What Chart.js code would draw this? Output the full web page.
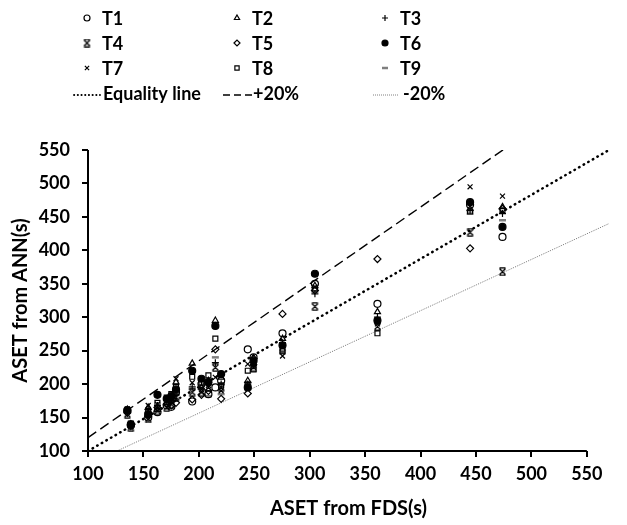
<!DOCTYPE html>
<html>
<head>
<meta charset="utf-8">
<title>ASET: ANN vs FDS</title>
<script src="https://cdn.jsdelivr.net/npm/chart.js@4/dist/chart.umd.min.js"></script>
<style>
  html, body { margin: 0; padding: 0; background: #fff; }
  #wrap { width: 627px; height: 525px; }
</style>
</head>
<body>
<div id="wrap"><canvas id="chart" width="627" height="525"></canvas></div>
<script>
// ASET from FDS (x) for each case
const fds = [134, 137, 152, 160, 168, 172, 176, 190, 198, 204, 210, 215, 238, 243, 268, 296, 350, 430, 458];

// ASET predicted by the ANN, one array per test set
const annT1 = [160, 138, 150, 158, 168, 166, 188, 174, 200, 185, 195, 205, 252, 240, 276, 350, 320, 468, 420];
const annT2 = [162, 140, 165, 162, 172, 176, 203, 231, 195, 205, 295, 210, 205, 232, 268, 347, 308, 462, 465];
const annT3 = [158, 136, 162, 168, 176, 180, 184, 196, 205, 200, 232, 200, 200, 228, 262, 335, 300, 460, 455];
const annT4 = [155, 135, 148, 160, 165, 170, 180, 188, 188, 195, 225, 195, 198, 230, 255, 316, 286, 427, 368];
const annT5 = [157, 139, 152, 165, 170, 168, 172, 177, 184, 190, 252, 178, 186, 238, 305, 340, 387, 403, 462];
const annT6 = [161, 140, 155, 184, 178, 182, 192, 220, 208, 203, 287, 215, 195, 235, 258, 365, 295, 472, 435];
const annT7 = [163, 137, 168, 170, 175, 174, 208, 202, 192, 198, 210, 190, 230, 225, 242, 345, 290, 495, 481];
const annT8 = [160, 141, 160, 172, 180, 185, 196, 211, 202, 213, 268, 198, 220, 222, 250, 343, 276, 458, 460];
const annT9 = [158, 138, 157, 163, 169, 172, 178, 193, 198, 182, 240, 185, 192, 220, 246, 338, 292, 455, 445];

// reference lines (end points), clipped to the plot area
const refX = [100, 550];
const equalY = [100, 550];
const plus20Y = [120, 660];
const minus20Y = [80, 440];

const axisTicks = [100, 150, 200, 250, 300, 350, 400, 450, 500, 550];

const FONT = 'Lato, "Open Sans", sans-serif';

// x with bars top and bottom
function barredCross() {
    const c = document.createElement('canvas');
    c.width = 9; c.height = 9;
    const g = c.getContext('2d');
    g.strokeStyle = '#000';
    g.lineWidth = 1.3;
    g.beginPath();
    g.moveTo(1.5, 1.5); g.lineTo(7.5, 7.5);
    g.moveTo(7.5, 1.5); g.lineTo(1.5, 7.5);
    g.moveTo(1.5, 0.8); g.lineTo(7.5, 0.8);
    g.moveTo(1.5, 8.2); g.lineTo(7.5, 8.2);
    g.stroke();
    return c;
}

const pairs = (xs, ys) => xs.map((x, i) => ({ x: x, y: ys[i] }));

function series(label, ys, style, extra) {
    return Object.assign({
        type: 'scatter',
        label: label,
        data: pairs(fds, ys),
        pointStyle: style,
        pointRadius: 3.5,
        pointBorderWidth: 1.2,
        pointBorderColor: '#000',
        pointBackgroundColor: 'rgba(0,0,0,0)'
    }, extra || {});
}

function refLine(label, ys, extra) {
    return Object.assign({
        type: 'line',
        label: label,
        data: pairs(refX, ys),
        borderColor: '#000',
        pointRadius: 0,
        fill: false,
        tension: 0
    }, extra);
}

const datasets = [
    series('T1', annT1, 'circle'),
    series('T2', annT2, 'triangle'),
    series('T3', annT3, 'cross'),
    series('T4', annT4, barredCross()),
    series('T5', annT5, 'rectRot'),
    series('T6', annT6, 'circle', { pointBackgroundColor: '#000' }),
    series('T7', annT7, 'crossRot'),
    series('T8', annT8, 'rect'),
    series('T9', annT9, 'line', { pointBorderColor: '#7f7f7f', pointBorderWidth: 2.5 }),
    refLine('Equality line', equalY, { borderWidth: 2.5, borderDash: [0.5, 4.8], borderCapStyle: 'round' }),
    refLine('+20%', plus20Y, { borderWidth: 1.4, borderDash: [10, 5] }),
    refLine('-20%', minus20Y, { borderWidth: 1, borderDash: [1.2, 1.2], borderColor: '#808080' })
];

// legend drawn as a fixed 3-column grid above the plot
const gridLegend = {
    id: 'gridLegend',
    afterDraw(chart) {
        const ctx = chart.ctx;
        const colX = [87, 237, 385];
        const rowY = [18, 43, 68, 93];
        const samples = [[74, 100, 103], [223, 252, 253], [373, 398, 403]];
        ctx.save();
        ctx.font = 'bold 18px ' + FONT;
        ctx.textBaseline = 'middle';
        ctx.fillStyle = '#000';
        chart.data.datasets.forEach((ds, i) => {
            if (i < 9) {
                const x = colX[i % 3], y = rowY[Math.floor(i / 3)];
                ctx.save();
                ctx.strokeStyle = ds.pointBorderColor;
                ctx.fillStyle = ds.pointBackgroundColor;
                ctx.lineWidth = ds.pointBorderWidth;
                Chart.helpers.drawPoint(ctx, {
                    pointStyle: ds.pointStyle, radius: 3, borderWidth: ds.pointBorderWidth, rotation: 0
                }, x, y);
                ctx.restore();
                ctx.fillText(ds.label, x + 15, y + 1);
            } else {
                const s = samples[i - 9], y = rowY[3];
                ctx.save();
                ctx.strokeStyle = ds.borderColor;
                ctx.lineWidth = Math.min(ds.borderWidth, 1.8);
                ctx.lineCap = ds.borderCapStyle || 'butt';
                ctx.setLineDash(i === 9 ? [0.3, 3.4] : i === 10 ? [7, 4] : [1, 1]);
                ctx.beginPath();
                ctx.moveTo(s[0], y + 2);
                ctx.lineTo(s[1], y + 2);
                ctx.stroke();
                ctx.restore();
                ctx.fillText(ds.label, s[2], y + 1);
            }
        });
        ctx.restore();
    }
};

// axis lines only span 100..550 on the labelled axes
const axisLines = {
    id: 'axisLines',
    afterDraw(chart) {
        const ctx = chart.ctx;
        const xs = chart.scales.xv, ys = chart.scales.y;
        const left = chart.chartArea.left, bottom = chart.chartArea.bottom;
        ctx.save();
        ctx.strokeStyle = '#000';
        ctx.lineWidth = 2;
        ctx.beginPath();
        ctx.moveTo(xs.getPixelForValue(axisTicks[0]), bottom);
        ctx.lineTo(xs.getPixelForValue(axisTicks[axisTicks.length - 1]), bottom);
        ctx.moveTo(left, ys.getPixelForValue(axisTicks[0]));
        ctx.lineTo(left, ys.getPixelForValue(axisTicks[axisTicks.length - 1]));
        ctx.stroke();
        ctx.restore();
    }
};

const tickFont = { family: FONT, size: 18, weight: 'bold' };
const titleFont = { family: FONT, size: 20, weight: 'bold' };
const onlyAxisTicks = scale => {
    scale.ticks = axisTicks.map(v => ({ value: v }));
};

new Chart(document.getElementById('chart'), {
    type: 'scatter',
    data: { datasets: datasets },
    options: {
        responsive: false,
        animation: false,
        events: [],
        layout: { padding: { top: 150, right: 18, left: 0, bottom: 0 } },
        plugins: {
            legend: { display: false },
            tooltip: { enabled: false }
        },
        scales: {
            x: {
                type: 'linear',
                min: 100,
                max: 550,
                display: false
            },
            xv: {
                type: 'linear',
                position: 'bottom',
                min: 100,
                max: 570,
                afterBuildTicks: onlyAxisTicks,
                afterFit: scale => { scale.height = 74; },
                border: { display: false },
                grid: { drawOnChartArea: false, drawTicks: true, tickLength: 6, color: '#000', lineWidth: 2 },
                ticks: { font: tickFont, color: '#000', padding: 6, maxRotation: 0 },
                title: {
                    display: true,
                    text: 'ASET from FDS(s)',
                    font: titleFont,
                    color: '#000',
                    padding: { top: 0, bottom: 4 }
                }
            },
            y: {
                type: 'linear',
                min: 100,
                max: 550,
                afterBuildTicks: onlyAxisTicks,
                afterFit: scale => { scale.width = 88; },
                border: { display: false },
                grid: { drawOnChartArea: false, drawTicks: true, tickLength: 6, color: '#000', lineWidth: 2 },
                ticks: { font: tickFont, color: '#000', padding: 12 },
                title: {
                    display: true,
                    text: 'ASET from ANN(s)',
                    font: titleFont,
                    color: '#000',
                    padding: { top: 9, bottom: 0 }
                }
            }
        }
    },
    plugins: [gridLegend, axisLines]
});
</script>
</body>
</html>
